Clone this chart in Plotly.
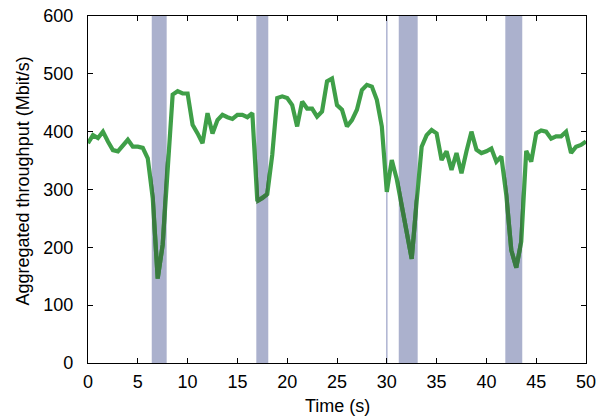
import plotly.graph_objects as go

time_s = [i * 0.5 for i in range(101)]
throughput = [
    380, 394, 389, 400, 383, 368, 366, 377, 386, 374,   # 0 - 4.5
    374, 372, 354, 285, 146, 205, 345, 464, 470, 466,   # 5 - 9.5
    466, 412, 397, 380, 432, 397, 420, 429, 425, 422,   # 10 - 14.5
    429, 429, 425, 432, 280, 285, 292, 360, 458, 461,   # 15 - 19.5
    458, 446, 409, 452, 440, 440, 426, 435, 487, 492,   # 20 - 24.5
    446, 438, 409, 420, 438, 472, 481, 478, 455, 409,   # 25 - 29.5
    296, 351, 318, 272, 226, 180, 280, 374, 394, 403,   # 30 - 34.5
    397, 351, 366, 334, 363, 328, 366, 400, 369, 363,   # 35 - 39.5
    366, 371, 348, 357, 290, 195, 165, 210, 367, 348,   # 40 - 44.5
    397, 402, 400, 388, 392, 392, 400, 363, 374, 377,   # 45 - 49.5
    383,                                                # 50
]

bands = [(6.4, 7.9), (16.9, 18.1), (31.2, 33.1), (41.9, 43.6)]
marker_time = 30.0

x_ticks = [0, 5, 10, 15, 20, 25, 30, 35, 40, 45, 50]
y_ticks = [0, 100, 200, 300, 400, 500, 600]
X_MAX = 50
Y_MAX = 600

GREEN = "#3f9f48"
DARK_GREEN = "#3a7b40"
BAND = "#abb1cd"
FONT = "Liberation Sans, Arial, Helvetica, sans-serif"
FS = 18

W, H = 606, 417
ML, MR, MT, MB = 88, 20, 16, 54
PW, PH = W - ML - MR, H - MT - MB

fig = go.Figure()

fig.add_trace(go.Scatter(
    x=time_s, y=throughput, mode="lines",
    line=dict(color=GREEN, width=4.2),
    showlegend=False, hoverinfo="skip",
))

layout_extra = {}
for i, (b0, b1) in enumerate(bands):
    ax = i + 2
    fig.add_trace(go.Scatter(
        x=time_s, y=throughput, mode="lines",
        line=dict(color=DARK_GREEN, width=4.2),
        xaxis=f"x{ax}", yaxis="y",
        showlegend=False, hoverinfo="skip",
    ))
    layout_extra[f"xaxis{ax}"] = dict(
        domain=[b0 / X_MAX, b1 / X_MAX], range=[b0, b1],
        anchor="y", visible=False, fixedrange=True,
    )
    fig.add_shape(
        type="rect", xref="x", yref="paper",
        x0=b0, x1=b1, y0=0, y1=1,
        fillcolor=BAND, line=dict(width=0), layer="below",
    )

fig.add_shape(
    type="line", xref="x", yref="paper",
    x0=marker_time, x1=marker_time, y0=0, y1=1,
    line=dict(color="#b3b8d4", width=1.6), layer="below",
)

axis_common = dict(
    showline=True, linecolor="black", linewidth=1.2,
    mirror="ticks", ticks="inside", ticklen=5, tickwidth=1,
    tickcolor="black", showgrid=False, zeroline=False,
    automargin=False, ticklabeloverflow="allow",
    tickfont=dict(family=FONT, size=FS, color="black"),
)


def px_to_paper_x(px):
    return (px - ML) / PW


def px_to_paper_y(py):
    return (MT + PH - py) / PH


fig.add_annotation(
    text="Aggregated throughput (Mbit/s)", textangle=-90,
    xref="paper", yref="paper",
    x=px_to_paper_x(22), y=px_to_paper_y(181.5),
    xanchor="center", yanchor="middle", showarrow=False,
    font=dict(family=FONT, size=FS, color="black"),
)
fig.add_annotation(
    text="Time (s)",
    xref="paper", yref="paper",
    x=0.5, y=px_to_paper_y(406),
    xanchor="center", yanchor="middle", showarrow=False,
    font=dict(family=FONT, size=FS, color="black"),
)

fig.update_layout(
    width=W, height=H,
    margin=dict(l=ML, r=MR, t=MT, b=MB),
    paper_bgcolor="white", plot_bgcolor="rgba(0,0,0,0)",
    font=dict(family=FONT, color="black"),
    xaxis=dict(
        range=[0, X_MAX], tickvals=x_ticks,
        ticktext=[str(v) for v in x_ticks],
        ticklabelstandoff=2,
        **axis_common,
    ),
    yaxis=dict(
        range=[0, Y_MAX], tickvals=y_ticks,
        ticktext=[str(v) for v in y_ticks],
        ticklabelstandoff=10,
        **axis_common,
    ),
    **layout_extra,
)

fig.write_html(
    "out.html",
    config={"displayModeBar": False, "staticPlot": True},
    post_script="document.body.style.margin='0';document.body.style.overflow='hidden';",
)
